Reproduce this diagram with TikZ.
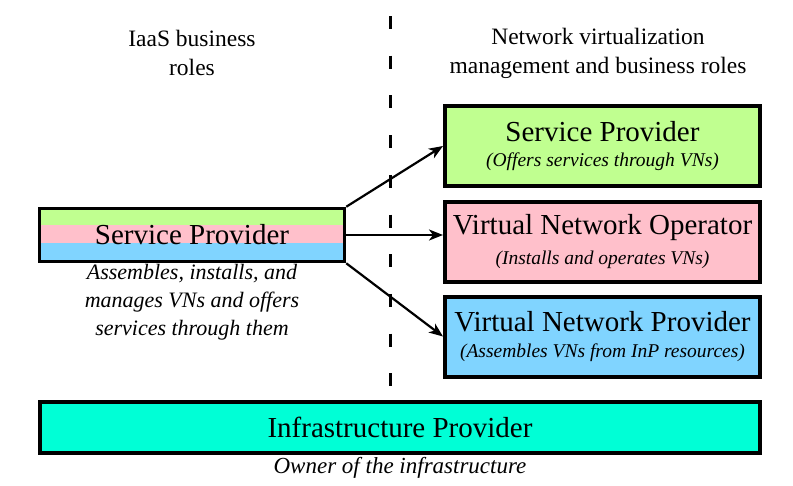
\documentclass[tikz,border=0pt]{standalone}
\usepackage{fontspec}
\setmainfont{Liberation Serif}
\usepackage{tikz}
\usetikzlibrary{arrows.meta,positioning}

\definecolor{spgreen}{RGB}{192,255,144}
\definecolor{vnopink}{RGB}{255,192,203}
\definecolor{vnpblue}{RGB}{128,212,255}
\definecolor{inpcyan}{RGB}{0,255,214}

\newcommand{\rolename}[1]{{\fontsize{29}{32}\selectfont #1}}
\newcommand{\roletask}[1]{{\fontsize{19.5}{22}\selectfont\itshape #1}}

\tikzset{
  rolebox/.style={draw,line width=4pt,minimum width=315pt,minimum height=80pt,
    align=center,inner sep=0pt},
  heading/.style={align=center,font=\fontsize{23.5}{29}\selectfont},
  note/.style={align=center,font=\fontsize{22}{28}\selectfont\itshape},
}

\begin{document}
\begin{tikzpicture}[x=1pt,y=-1pt,>={Stealth[length=14pt,width=11pt,inset=4pt]}]
  \useasboundingbox (0,0) rectangle (793,485);

  % column headings and the dashed divider
  \node (iaas) [heading] at (192,53) {IaaS business\\roles};
  \node (nvm) [heading] at (598,53) {Network virtualization\\management and business roles};
  \coordinate (divtop) at (390,16);
  \coordinate (divbot) at (390,387);
  \draw[line width=3pt,dash pattern=on 13pt off 26.7pt] (divtop) -- (divbot);

  % IaaS service provider (striped)
  \node (leftsp) [draw,line width=3.5pt,minimum width=305pt,minimum height=53pt,inner sep=0pt,
    path picture={
      \fill[spgreen] (path picture bounding box.north west) rectangle ([yshift=-16.5pt]path picture bounding box.north east);
      \fill[vnopink] ([yshift=-16.5pt]path picture bounding box.north west) rectangle ([yshift=-34.5pt]path picture bounding box.north east);
      \fill[vnpblue] ([yshift=-34.5pt]path picture bounding box.north west) rectangle (path picture bounding box.south east);
    }] at (192,235) {\rolename{Service Provider}};
  \node (leftnote) [note,below=-3pt of leftsp] {Assembles, installs, and\\manages VNs and offers\\services through them};

  % network virtualization roles
  \node (sp) [rolebox,fill=spgreen] at (602.5,146)
    {\rolename{Service Provider}\\[10pt]\roletask{(Offers services through VNs)}};
  \node (vno) [rolebox,fill=vnopink] at (602.5,241.5)
    {\rolename{Virtual Network Operator}\\[10pt]\roletask{(Installs and operates VNs)}};
  \node (vnp) [rolebox,fill=vnpblue] at (602.5,336.5)
    {\rolename{Virtual Network Provider}\\[10pt]\roletask{(Assembles VNs from InP resources)}};

  % infrastructure provider
  \node (inp) [draw,fill=inpcyan,line width=4pt,minimum width=720pt,minimum height=51pt] at (400,427.5)
    {\rolename{Infrastructure Provider}};
  \node (owner) [note,font=\fontsize{23}{28}\selectfont\itshape,below=-1pt of inp] {Owner of the infrastructure};

  \draw[->,line width=2.2pt] (leftsp.north east) -- (sp.west);
  \draw[->,line width=2.2pt] (leftsp.east) -- (leftsp.east -| vno.west);
  \draw[->,line width=2.2pt] (leftsp.south east) -- (vnp.west);
\end{tikzpicture}
\end{document}
